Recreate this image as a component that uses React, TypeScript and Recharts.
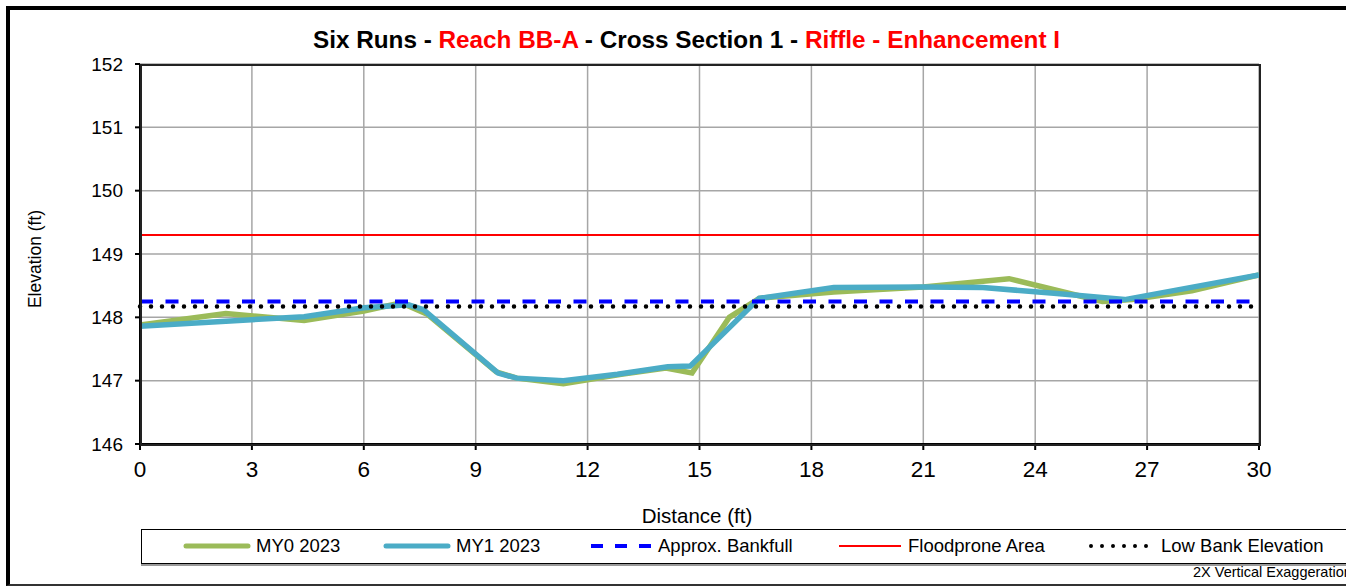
import React from "react";
import {
  LineChart,
  Line,
  XAxis,
  YAxis,
  CartesianGrid,
  ReferenceLine,
} from "recharts";

const my0Distance = [0, 2.3, 4.4, 6.0, 7.0, 7.7, 9.55, 10.1, 11.35, 12.9, 14.1, 14.8, 15.8, 16.6, 18.6, 21.0, 23.3, 25.8, 26.6, 28.2, 30.0];
const my0Elevation = [147.88, 148.06, 147.95, 148.1, 148.23, 148.05, 147.14, 147.04, 146.95, 147.1, 147.2, 147.12, 148.0, 148.3, 148.4, 148.48, 148.61, 148.25, 148.28, 148.42, 148.67];

const my1Distance = [0, 4.4, 6.0, 7.2, 7.6, 9.6, 10.1, 11.35, 12.8, 14.15, 14.75, 16.6, 18.6, 21.0, 22.6, 24.5, 26.4, 30.0];
const my1Elevation = [147.86, 148.01, 148.15, 148.2, 148.12, 147.12, 147.04, 147.0, 147.1, 147.22, 147.23, 148.3, 148.47, 148.48, 148.47, 148.38, 148.28, 148.67];

const bankfullElevation = 148.25;
const floodproneElevation = 149.3;
const lowBankElevation = 148.17;

const xTicks = [0, 3, 6, 9, 12, 15, 18, 21, 24, 27, 30];
const yTicks = [146, 147, 148, 149, 150, 151, 152];

const my0Data = my0Distance.map((d, i) => ({ distance: d, elevation: my0Elevation[i] }));
const my1Data = my1Distance.map((d, i) => ({ distance: d, elevation: my1Elevation[i] }));

const FONT = "'Liberation Sans', Arial, sans-serif";

const legendItems = [
  { label: "MY0 2023", color: "#9BBB59", width: 5, dash: undefined, cap: "round" },
  { label: "MY1 2023", color: "#4BACC6", width: 5, dash: undefined, cap: "round" },
  { label: "Approx. Bankfull", color: "#0000FF", width: 4, dash: "12 12", cap: "butt" },
  { label: "Floodprone Area", color: "#FF0000", width: 2, dash: undefined, cap: "butt" },
  { label: "Low Bank Elevation", color: "#000000", width: 4, dash: "0 11", cap: "round" },
];

// offsets inside the legend box: sample line start, text start
const lineLeft = [44, 244, 449, 697, 949];
const textLeft = [114, 314, 516, 766, 1019];

function LegendBox() {
  return (
    <div
      style={{
        position: "absolute",
        left: 141,
        top: 529,
        width: 1260,
        height: 33,
        border: "1px solid #000",
        boxShadow: "0 2px 0 #999",
        background: "#fff",
        fontFamily: FONT,
        fontSize: 18.5,
      }}
    >
      {legendItems.map((it, i) => (
        <React.Fragment key={it.label}>
          <svg width={68} height={20} style={{ position: "absolute", left: lineLeft[i] - 3, top: 6 }}>
            <line
              x1={3}
              x2={65}
              y1={10}
              y2={10}
              stroke={it.color}
              strokeWidth={it.width}
              strokeDasharray={it.dash}
              strokeLinecap={it.cap as any}
            />
          </svg>
          <span style={{ position: "absolute", left: textLeft[i], top: 5, color: "#000", whiteSpace: "nowrap" }}>
            {it.label}
          </span>
        </React.Fragment>
      ))}
    </div>
  );
}

export default function App() {
  return (
    <div style={{ position: "absolute", left: 0, top: 0, width: 1346, height: 588, overflow: "hidden", background: "#fff" }}>
      <div
        style={{
          position: "absolute",
          left: 6,
          top: 6,
          width: 1450,
          height: 574,
          borderLeft: "4px solid #000",
          borderTop: "4px solid #000",
          borderBottom: "2px solid #333",
        }}
      />
      <div
        style={{
          position: "absolute",
          left: 0,
          top: 26,
          width: 1373,
          textAlign: "center",
          fontFamily: FONT,
          fontWeight: "bold",
          fontSize: 24.3,
        }}
      >
        <span>Six Runs - </span>
        <span style={{ color: "#FF0000" }}>Reach BB-A</span>
        <span> - Cross Section 1 - </span>
        <span style={{ color: "#FF0000" }}>Riffle - Enhancement I</span>
      </div>
      <div style={{ position: "absolute", left: 0, top: 0 }}>
        <LineChart
          width={1346}
          height={588}
          margin={{ top: 64, right: 87, left: 0, bottom: 104 }}
          style={{ fontFamily: FONT }}
        >
          <CartesianGrid stroke="#a6a6a6" strokeWidth={1.5} />
          <XAxis
            type="number"
            dataKey="distance"
            domain={[0, 30]}
            ticks={xTicks}
            height={40}
            allowDataOverflow
            tickSize={6}
            tickMargin={11}
            stroke="#000"
            strokeWidth={2}
            tick={{ fontSize: 22.5, fill: "#000" }}
            label={() => (
              <text x={697} y={515} textAnchor="middle" dominantBaseline="central" fontSize={20.5} fill="#000">
                Distance (ft)
              </text>
            )}
          />
          <YAxis
            type="number"
            domain={[146, 152]}
            ticks={yTicks}
            width={140}
            allowDataOverflow
            tickSize={5}
            tickMargin={12}
            stroke="#000"
            strokeWidth={2}
            tick={{ fontSize: 19, fill: "#000" }}
            label={() => (
              <text
                x={35}
                y={259}
                transform="rotate(-90, 35, 259)"
                textAnchor="middle"
                dominantBaseline="central"
                fontSize={17.5}
                fill="#000"
              >
                Elevation (ft)
              </text>
            )}
          />
          <ReferenceLine y={floodproneElevation} stroke="#FF0000" strokeWidth={2} />
          <Line
            data={my0Data}
            dataKey="elevation"
            stroke="#9BBB59"
            strokeWidth={5.5}
            dot={false}
            type="linear"
            isAnimationActive={false}
          />
          <Line
            data={my1Data}
            dataKey="elevation"
            stroke="#4BACC6"
            strokeWidth={5.5}
            dot={false}
            type="linear"
            isAnimationActive={false}
          />
          <ReferenceLine y={bankfullElevation} stroke="#0000FF" strokeWidth={4} strokeDasharray="13 12.5" />
          <ReferenceLine y={lowBankElevation} stroke="#000" strokeWidth={4.5} strokeDasharray="0 11" strokeLinecap="round" />
        </LineChart>
      </div>
      <div
        style={{
          position: "absolute",
          left: 140,
          top: 64,
          width: 1117,
          height: 378,
          border: "2px solid #222",
          pointerEvents: "none",
        }}
      />
      <LegendBox />
      <div
        style={{
          position: "absolute",
          left: 1193,
          top: 564,
          fontFamily: FONT,
          fontSize: 14.5,
          whiteSpace: "nowrap",
        }}
      >
        2X Vertical Exaggeration
      </div>
    </div>
  );
}
